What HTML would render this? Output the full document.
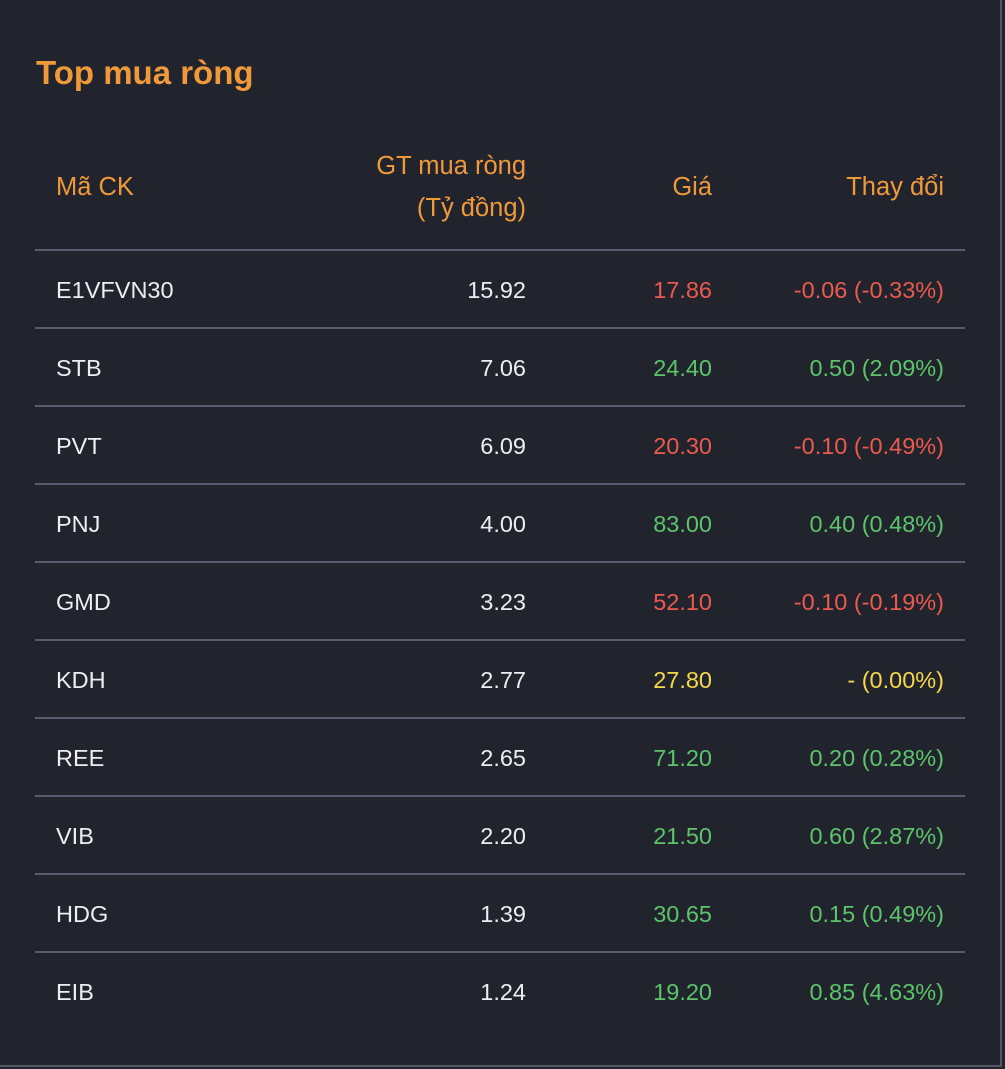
<!DOCTYPE html>
<html><head><meta charset="utf-8">
<style>
html,body{margin:0;padding:0;background:#21232d;}
body{width:1005px;height:1069px;position:relative;overflow:hidden;font-family:"Liberation Sans",sans-serif;}
.frame{position:absolute;left:0;top:0;width:1000px;height:1065px;border-right:2px solid #555769;border-bottom:2px solid #555769;}
.title{position:absolute;left:36px;top:54px;font-size:33px;font-weight:bold;color:#f0993a;}
.hd{position:absolute;color:#f0993a;font-size:25.5px;line-height:42px;}
.line{position:absolute;left:35px;width:930px;height:2px;background:#5a5b6e;}
.cell{position:absolute;font-size:23.5px;line-height:30px;}
</style></head><body>
<div class="frame"></div>
<div class="title">Top mua ròng</div>
<div class="hd" style="left:56px;top:166px">Mã CK</div>
<div class="hd" style="right:479px;top:145px;text-align:right">GT mua ròng<br>(Tỷ đồng)</div>
<div class="hd" style="right:293px;top:166px">Giá</div>
<div class="hd" style="right:61px;top:166px">Thay đổi</div>
<div id="rows"></div>
<script>
const codes=["E1VFVN30","STB","PVT","PNJ","GMD","KDH","REE","VIB","HDG","EIB"];
const netBuy=[15.92,7.06,6.09,4.00,3.23,2.77,2.65,2.20,1.39,1.24];
const prices=[17.86,24.40,20.30,83.00,52.10,27.80,71.20,21.50,30.65,19.20];
const changes=[-0.06,0.50,-0.10,0.40,-0.10,0,0.20,0.60,0.15,0.85];
const pcts=[-0.33,2.09,-0.49,0.48,-0.19,0.00,0.28,2.87,0.49,4.63];
const root=document.getElementById('rows');
const rowY=i=>250+i*78;
function col(v){return v>0?'#5cc46a':v<0?'#eb5a4e':'#f5d84a';}
function add(cls,style,text,name){const d=document.createElement('div');d.className=cls;d.setAttribute('style',style);if(text!==null)d.textContent=text;


root.appendChild(d);}
codes.forEach((c,i)=>{
 const y=rowY(i);
 add('line','top:'+(y-1)+'px',null,'row-divider');
 const t=y+25;
 add('cell','left:56px;top:'+t+'px;color:#eceef2',c,'cell-code');
 add('cell','right:479px;top:'+t+'px;color:#eceef2',netBuy[i].toFixed(2),'cell-net-buy');
 add('cell','right:293px;top:'+t+'px;color:'+col(changes[i]),prices[i].toFixed(2),'cell-price');
 const ch=changes[i]===0?'-':changes[i].toFixed(2);
 add('cell','right:61px;top:'+t+'px;color:'+col(changes[i]),ch+' ('+pcts[i].toFixed(2)+'%)','cell-change');
});
</script>
</body></html>
